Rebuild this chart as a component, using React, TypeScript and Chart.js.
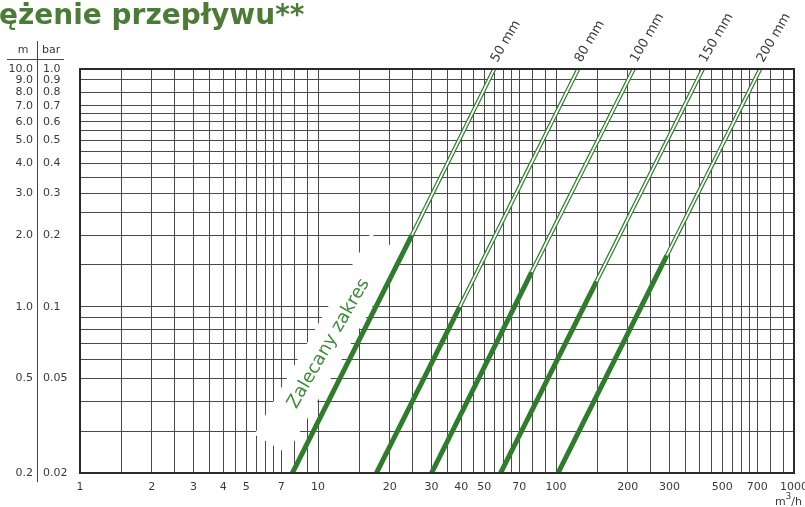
import React, { useEffect, useRef } from "react";
import { Chart, registerables } from "chart.js";

Chart.register(...registerables);

// ---------- texts ----------
const titleText = "ężenie przepływu**";
const recommendedText = "Zalecany zakres";
const headerMeter = "m";
const headerBar = "bar";
const unitParts = ["m", "3", "/h"];

// ---------- data ----------
const diameters = ["50 mm", "80 mm", "100 mm", "150 mm", "200 mm"];
// flow (m³/h) where each line meets 0.02 bar
const flowAtMinDrop = [7.8, 17.6, 30, 58.5, 102];
// end of the recommended (thick) range
const flowAtRangeEnd = [24.8, 39.4, 79, 148, 292];
const dropAtRangeEnd = [0.2, 0.1, 0.14, 0.128, 0.164];
// flow (m³/h) where each line meets 1.0 bar
const flowAtMaxDrop = [55, 124, 212, 414, 721];
const minDrop = 0.02;
const maxDrop = 1.0;

// position of the "Zalecany zakres" note (flow, bar)
const recommendedAt = [11.1, 0.07];

// ---------- axes ----------
const xGridValues = [
  1, 1.5, 2, 2.5, 3, 3.5, 4, 4.5, 5, 5.5, 6, 6.5, 7, 8, 9,
  10, 15, 20, 25, 30, 35, 40, 45, 50, 55, 60, 65, 70, 80, 90,
  100, 150, 200, 250, 300, 350, 400, 450, 500, 550, 600, 650, 700, 800, 900, 1000,
];
const xLabelValues = [1, 2, 3, 4, 5, 7, 10, 20, 30, 40, 50, 70, 100, 200, 300, 500, 700, 1000];

const yGridValues = [
  0.02, 0.03, 0.04, 0.05, 0.06, 0.07, 0.08, 0.09, 0.1, 0.15, 0.2, 0.25, 0.3,
  0.35, 0.4, 0.45, 0.5, 0.55, 0.6, 0.65, 0.7, 0.8, 0.9, 1.0,
];
const yBarLabelValues = [1.0, 0.9, 0.8, 0.7, 0.6, 0.5, 0.4, 0.3, 0.2, 0.1, 0.05, 0.02];
const yBarLabels = ["1.0", "0.9", "0.8", "0.7", "0.6", "0.5", "0.4", "0.3", "0.2", "0.1", "0.05", "0.02"];
const yMeterLabelValues = [10, 9, 8, 7, 6, 5, 4, 3, 2, 1, 0.5, 0.2];
const yMeterLabels = ["10.0", "9.0", "8.0", "7.0", "6.0", "5.0", "4.0", "3.0", "2.0", "1.0", "0.5", "0.2"];

// ---------- styles ----------
const FONT = "'DejaVu Sans', Verdana, sans-serif";
const GREEN = "#2f7d2c";
const TEXT_GREEN = "#3f8c3a";
const TITLE_GREEN = "#4a7c35";
const GRID = "#4a4a4a";
const LABEL = "#3a3a3a";

const near = (a: number, b: number) => Math.abs(a - b) <= Math.abs(b) * 1e-6;
const labelFor = (v: number, values: number[], labels: (string | number)[]) => {
  const i = values.findIndex((w) => near(v, w));
  return i >= 0 ? String(labels[i]) : "";
};

const overlayPlugin = {
  id: "overlay",
  beforeDatasetsDraw(chart: any) {
    const { ctx } = chart;
    const xs = chart.scales.x;
    const ys = chart.scales.y;
    const cx = xs.getPixelForValue(recommendedAt[0]);
    const cy = ys.getPixelForValue(recommendedAt[1]);
    ctx.save();
    ctx.translate(cx, cy);
    ctx.rotate((-60 * Math.PI) / 180);
    ctx.fillStyle = "#ffffff";
    ctx.fillRect(-116, -19, 232, 38);
    ctx.fillStyle = TEXT_GREEN;
    ctx.font = `18px ${FONT}`;
    ctx.textAlign = "center";
    ctx.textBaseline = "middle";
    ctx.fillText(recommendedText, 0, 0);
    ctx.restore();
  },
  afterDraw(chart: any) {
    const { ctx, chartArea: a } = chart;
    const xs = chart.scales.x;
    ctx.save();
    // plot frame
    ctx.strokeStyle = "#2a2a2a";
    ctx.lineWidth = 2;
    ctx.strokeRect(a.left, a.top, a.right - a.left, a.bottom - a.top);

    // diameter labels
    ctx.fillStyle = LABEL;
    ctx.font = `13px ${FONT}`;
    ctx.textAlign = "left";
    ctx.textBaseline = "alphabetic";
    diameters.forEach((d, i) => {
      const px = xs.getPixelForValue(flowAtMaxDrop[i]);
      ctx.save();
      ctx.translate(px + 3, a.top - 6);
      ctx.rotate((-60 * Math.PI) / 180);
      ctx.fillText(d, 0, 0);
      ctx.restore();
    });

    // header of the left label columns
    ctx.font = `11px ${FONT}`;
    ctx.fillStyle = LABEL;
    ctx.textAlign = "center";
    ctx.fillText(headerMeter, 23, 53);
    ctx.textAlign = "left";
    ctx.fillText(headerBar, 42, 53);
    ctx.strokeStyle = "#444";
    ctx.lineWidth = 1;
    ctx.beginPath();
    ctx.moveTo(7, 59.5);
    ctx.lineTo(64, 59.5);
    ctx.moveTo(37.5, 41);
    ctx.lineTo(37.5, 482);
    ctx.stroke();

    // unit label
    ctx.fillStyle = LABEL;
    ctx.font = `11px ${FONT}`;
    const w0 = ctx.measureText(unitParts[0]).width;
    ctx.font = `9px ${FONT}`;
    const w1 = ctx.measureText(unitParts[1]).width;
    ctx.font = `11px ${FONT}`;
    const w2 = ctx.measureText(unitParts[2]).width;
    let ux = 802 - (w0 + w1 + w2);
    ctx.textAlign = "left";
    ctx.fillText(unitParts[0], ux, 505);
    ux += w0;
    ctx.font = `9px ${FONT}`;
    ctx.fillText(unitParts[1], ux, 499);
    ux += w1;
    ctx.font = `11px ${FONT}`;
    ctx.fillText(unitParts[2], ux, 505);

    // title
    ctx.fillStyle = TITLE_GREEN;
    ctx.font = `bold 28px ${FONT}`;
    ctx.textAlign = "left";
    ctx.fillText(titleText, -1, 24);
    ctx.restore();
  },
};

export default function App() {
  const canvasRef = useRef<HTMLCanvasElement | null>(null);

  useEffect(() => {
    if (!canvasRef.current) return;

    const datasets: any[] = [];
    diameters.forEach((d, i) => {
      const thin = [
        { x: flowAtRangeEnd[i], y: dropAtRangeEnd[i] },
        { x: flowAtMaxDrop[i], y: maxDrop },
      ];
      const thick = [
        { x: flowAtMinDrop[i], y: minDrop },
        { x: flowAtRangeEnd[i], y: dropAtRangeEnd[i] },
      ];
      datasets.push({
        label: d + " outline",
        data: thin,
        borderColor: GREEN,
        borderWidth: 4.2,
        order: 3,
      });
      datasets.push({
        label: d + " inner",
        data: thin,
        borderColor: "#ffffff",
        borderWidth: 1.8,
        order: 2,
      });
      datasets.push({
        label: d,
        data: thick,
        borderColor: GREEN,
        borderWidth: 5,
        order: 1,
      });
    });
    datasets.forEach((ds) => {
      ds.showLine = true;
      ds.pointRadius = 0;
      ds.pointHoverRadius = 0;
      ds.fill = false;
      ds.tension = 0;
      ds.xAxisID = "x";
      ds.yAxisID = "y";
    });

    const tickFont = { family: FONT, size: 11 };

    const chart = new Chart(canvasRef.current, {
      type: "scatter",
      data: { datasets },
      options: {
        animation: false,
        responsive: false,
        events: [],
        layout: { padding: { top: 69, right: 11, bottom: 0, left: 0 } },
        plugins: {
          legend: { display: false },
          tooltip: { enabled: false },
          title: { display: false },
        },
        scales: {
          x: {
            type: "logarithmic",
            position: "bottom",
            min: 1,
            max: 1000,
            afterBuildTicks: (s: any) => {
              s.ticks = xGridValues.map((v) => ({ value: v }));
            },
            afterFit: (s: any) => {
              s.height = 34;
              s.paddingLeft = 0;
              s.paddingRight = 0;
            },
            grid: { color: GRID, lineWidth: 1, drawTicks: false },
            border: { display: false },
            ticks: {
              autoSkip: false,
              maxRotation: 0,
              minRotation: 0,
              padding: 8,
              color: LABEL,
              font: tickFont,
              callback: (v: any) => labelFor(Number(v), xLabelValues, xLabelValues),
            },
          },
          y: {
            type: "logarithmic",
            position: "left",
            weight: 0,
            min: minDrop,
            max: maxDrop,
            afterBuildTicks: (s: any) => {
              s.ticks = yGridValues.map((v) => ({ value: v }));
            },
            afterFit: (s: any) => {
              s.width = 37;
              s.paddingTop = 0;
              s.paddingBottom = 0;
            },
            grid: { color: GRID, lineWidth: 1, drawTicks: false },
            border: { display: false },
            ticks: {
              autoSkip: false,
              crossAlign: "far",
              padding: 0,
              color: LABEL,
              font: tickFont,
              callback: (v: any) => labelFor(Number(v), yBarLabelValues, yBarLabels),
            },
          },
          ym: {
            type: "logarithmic",
            position: "left",
            weight: 1,
            min: minDrop * 10,
            max: maxDrop * 10,
            afterBuildTicks: (s: any) => {
              s.ticks = yMeterLabelValues.map((v) => ({ value: v }));
            },
            afterFit: (s: any) => {
              s.width = 43;
              s.paddingTop = 0;
              s.paddingBottom = 0;
            },
            grid: { display: false, drawTicks: false },
            border: { display: false },
            ticks: {
              autoSkip: false,
              padding: 10,
              color: LABEL,
              font: tickFont,
              callback: (v: any) => labelFor(Number(v), yMeterLabelValues, yMeterLabels),
            },
          },
        },
      } as any,
      plugins: [overlayPlugin],
    });

    return () => chart.destroy();
  }, []);

  return (
    <div
      style={{
        position: "absolute",
        left: 0,
        top: 0,
        width: 805,
        height: 507,
        background: "#ffffff",
        overflow: "hidden",
      }}
    >
      <canvas ref={canvasRef} width={805} height={507} style={{ display: "block" }} />
    </div>
  );
}
